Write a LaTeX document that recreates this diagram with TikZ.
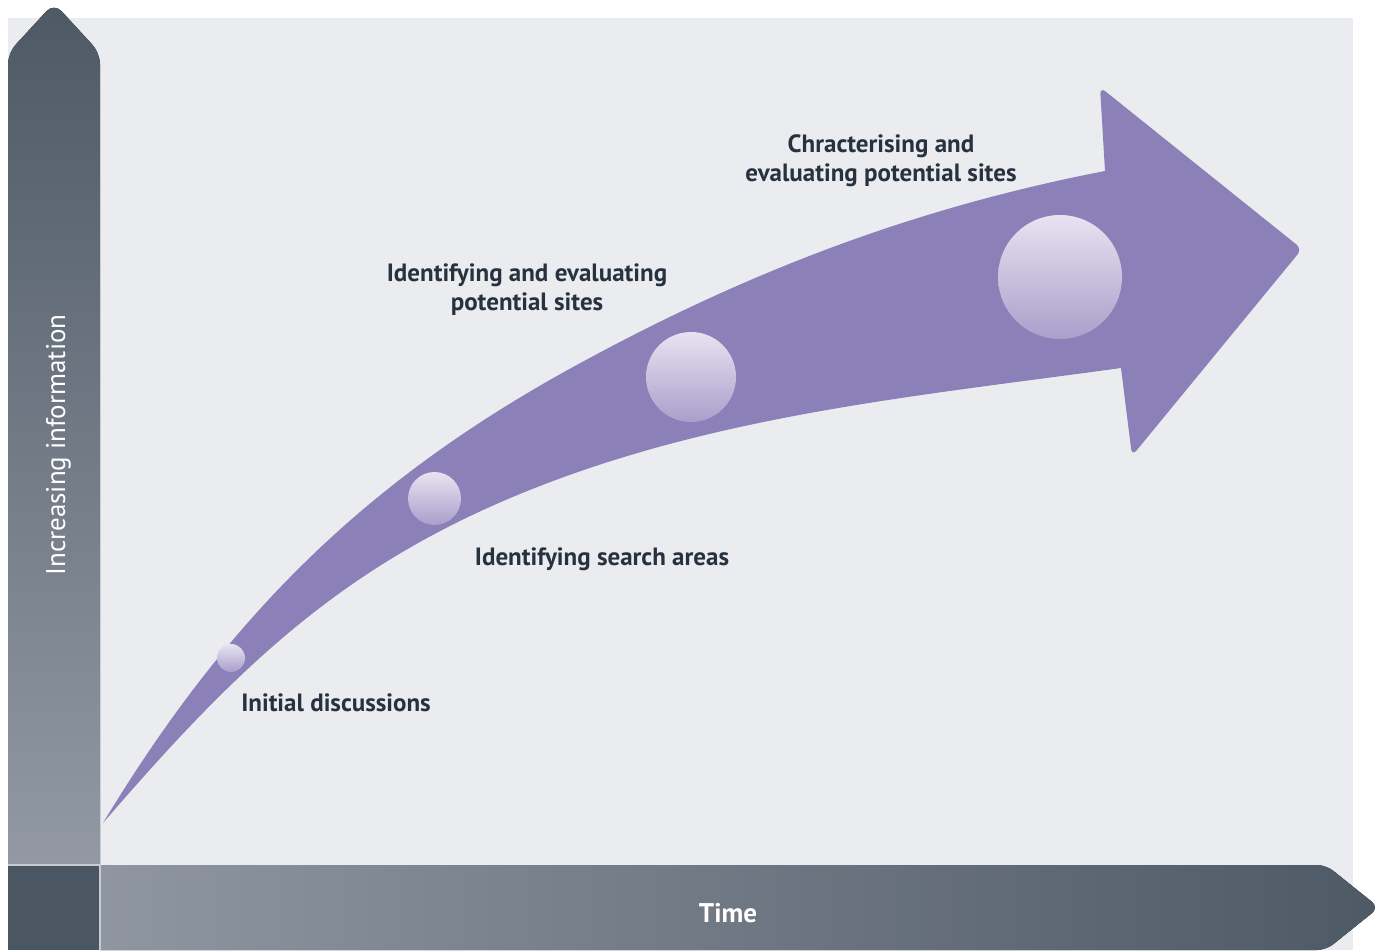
\documentclass[tikz,border=0pt]{standalone}
\usepackage{fontspec}
\setmainfont{PT Sans}
\definecolor{bgc}{HTML}{EBECF0}
\definecolor{bardark}{HTML}{4E5966}
\definecolor{barlight}{HTML}{8F96A0}
\definecolor{cornerc}{HTML}{4B5663}
\definecolor{purp}{HTML}{8B80B7}
\definecolor{circtop}{HTML}{E7E3F1}
\definecolor{circbot}{HTML}{A99FCB}
\definecolor{txtc}{HTML}{27323E}
\definecolor{sepc}{HTML}{C9CBD0}
\tikzset{
  bubble/.style={circle, inner sep=0pt, top color=circtop, bottom color=circbot, draw=none},
  lbl/.style={anchor=base, text=txtc, font=\fontsize{25}{30}\selectfont\bfseries, inner sep=0pt},
  axislbl/.style={anchor=base, text=white, inner sep=0pt},
}
\begin{document}
\begin{tikzpicture}[x=1pt,y=-1pt]
\useasboundingbox (0,0) rectangle (1378,950);
% background panel
\fill[bgc] (8,18) rectangle (1353,950);
% vertical axis arrow (bottom hidden under the corner square)
\fill[top color=bardark, bottom color=barlight!95!white, rounded corners=11]
  (8,895) -- (8,53) -- (54,3) -- (100,53) -- (100,895) -- cycle;
% corner square
\fill[cornerc] (8,865) rectangle (100,950);
% horizontal axis arrow
\fill[left color=barlight, right color=bardark]
  (100,865) [rounded corners=9] -- (1326,865) -- (1379,907.5) -- (1326,950) [sharp corners] -- (100,950) -- cycle;
% separators
\draw[sepc, line width=1.2pt] (8,865) -- (100,865) -- (100,950);
% curved purple arrow
\fill[purp] (103,823) .. controls (227,618) and (363,484) .. (564,372)
  .. controls (739,275) and (909,209) .. (1105,171)
  [rounded corners=7] -- (1100,87) -- (1302,249) -- (1132,456) [sharp corners] -- (1121,368)
  .. controls (933,394) and (743,412) .. (564,477)
  .. controls (357,552) and (247,656) .. (103,823) -- cycle;
% bubbles
\node[bubble, minimum size=28] (c1) at (231,658) {};
\node[bubble, minimum size=53] (c2) at (434.5,498.5) {};
\node[bubble, minimum size=90] (c3) at (691,377) {};
\node[bubble, minimum size=124] (c4) at (1060,277) {};
% labels
\node[lbl] (l1) at (336,711) {Initial discussions};
\node[lbl] (l2) at (602,565) {Identifying search areas};
\node[lbl] (l3a) at (527,281) {Identifying and evaluating};
\node[lbl] (l3b) at (527,310) {potential sites};
\node[lbl] (l4a) at (881,152) {Chracterising and};
\node[lbl] (l4b) at (881,181) {evaluating potential sites};
% axis labels
\node[axislbl, rotate=90, font=\fontsize{27}{32}\selectfont] (yl) at (65,445) {Increasing information};
\node[axislbl, font=\fontsize{27}{32}\selectfont\bfseries] (xl) at (728,922) {Time};
\end{tikzpicture}
\end{document}
